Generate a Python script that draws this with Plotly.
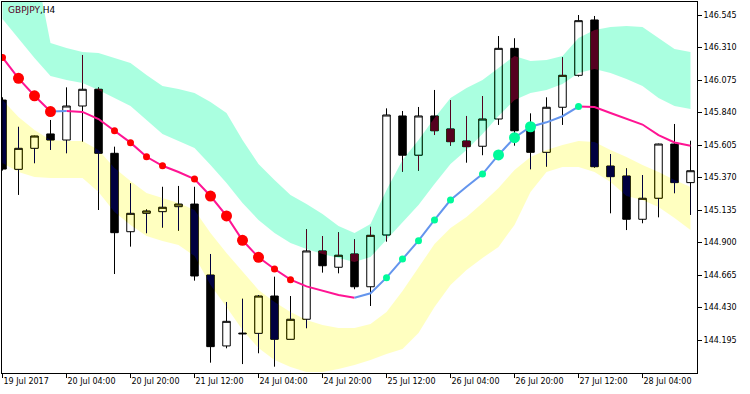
import plotly.graph_objects as go

# ---------------- data ----------------
symbol_label = "GBPJPY,H4"
x_tick_labels = ["19 Jul 2017", "20 Jul 04:00", "20 Jul 20:00", "21 Jul 12:00",
                 "24 Jul 04:00", "24 Jul 20:00", "25 Jul 12:00", "26 Jul 04:00",
                 "26 Jul 20:00", "27 Jul 12:00", "28 Jul 04:00"]
bars_per_label = 4
y_tick_values = [144.195, 144.430, 144.665, 144.900, 145.135, 145.370,
                 145.605, 145.840, 146.075, 146.310, 146.545]

open_ = [145.930, 145.429, 145.581, 145.685, 145.641, 145.887, 146.008, 145.545, 144.978, 145.111,
         145.123, 145.159, 145.178, 144.665, 144.152, 144.245, 144.243, 144.513, 144.200, 144.345,
         144.839, 144.721, 144.817, 144.580, 144.954, 145.815, 145.531, 145.815, 145.721, 145.634,
         145.596, 145.793, 146.304, 145.742, 145.552, 145.878, 146.109, 146.509, 145.453, 145.381,
         145.068, 145.220, 145.612, 145.333]
high_ = [145.950, 145.737, 145.672, 145.786, 146.022, 146.256, 146.022, 145.593, 145.328, 145.140,
         145.303, 145.309, 145.303, 144.817, 144.470, 144.494, 144.520, 144.653, 144.513, 144.996,
         144.947, 144.974, 144.923, 145.014, 145.870, 145.851, 145.880, 146.003, 145.930, 145.815,
         145.959, 146.393, 146.377, 145.834, 145.950, 146.239, 146.545, 146.538, 145.540, 145.437,
         145.388, 145.615, 145.757, 145.636]
low_ = [145.420, 145.244, 145.473, 145.569, 145.545, 145.629, 145.135, 144.672, 144.870, 144.967,
        145.007, 144.985, 144.624, 144.031, 144.135, 144.021, 144.099, 144.002, 144.198, 144.280,
        144.682, 144.677, 144.562, 144.441, 144.906, 145.412, 145.419, 145.677, 145.600, 145.477,
        145.531, 145.750, 145.600, 145.429, 145.448, 145.750, 146.099, 145.441, 145.111, 144.990,
        145.039, 145.082, 145.256, 145.099]
close_ = [145.431, 145.581, 145.670, 145.641, 145.887, 146.008, 145.545, 144.971, 145.111, 145.128,
          145.155, 145.178, 144.658, 144.147, 144.330, 144.240, 144.513, 144.200, 144.345, 144.839,
          144.732, 144.808, 144.580, 144.952, 145.822, 145.531, 145.815, 145.708, 145.629, 145.593,
          145.793, 146.304, 145.708, 145.552, 145.878, 146.109, 146.504, 145.448, 145.376, 145.068,
          145.220, 145.612, 145.333, 145.419]

ma_ = [146.238, 146.087, 145.961, 145.847, 145.851, 145.844, 145.793, 145.708, 145.622, 145.520,
       145.455, 145.410, 145.359, 145.236, 145.092, 144.916, 144.793, 144.708, 144.631, 144.583,
       144.549, 144.520, 144.501, 144.533, 144.646, 144.781, 144.913, 145.063, 145.207, 145.303,
       145.395, 145.533, 145.658, 145.737, 145.769, 145.813, 145.883, 145.880, 145.836, 145.797,
       145.753, 145.677, 145.623, 145.600]
# 0 = no dot, 1 = small dot, 2 = big dot
dot_kind = [1, 2, 2, 2, 0, 0, 0, 1, 1, 1,
            1, 0, 1, 2, 2, 2, 2, 1, 1, 0,
            0, 0, 0, 0, 1, 1, 1, 1, 1, 0,
            1, 2, 2, 2, 0, 0, 1, 0, 0, 0,
            0, 0, 0, 0]

upper_band_top = [146.979, 146.957, 146.928, 146.343, 146.306, 146.277, 146.270, 146.234, 146.198, 146.111,
                  146.032, 146.010, 145.981, 145.916, 145.836, 145.641, 145.468, 145.352, 145.244, 145.178,
                  145.106, 145.019, 144.969, 145.034, 145.280, 145.497, 145.641, 145.800, 145.945, 146.017,
                  146.075, 146.162, 146.249, 146.212, 146.220, 146.249, 146.379, 146.437, 146.458, 146.465,
                  146.458, 146.379, 146.299, 146.277]
upper_band_bottom = [146.516, 146.371, 146.234, 146.104, 146.075, 146.053, 146.003, 145.945, 145.887, 145.786,
                     145.685, 145.634, 145.583, 145.460, 145.330, 145.186, 145.063, 144.969, 144.896, 144.853,
                     144.817, 144.788, 144.759, 144.795, 144.918, 145.048, 145.171, 145.323, 145.468, 145.569,
                     145.685, 145.815, 145.930, 145.981, 146.003, 146.046, 146.126, 146.155, 146.126, 146.082,
                     146.032, 145.945, 145.887, 145.865]
lower_band_top = [145.930, 145.808, 145.714, 145.641, 145.634, 145.634, 145.569, 145.439, 145.345, 145.258,
                  145.222, 145.186, 145.135, 144.969, 144.824, 144.687, 144.557, 144.470, 144.398, 144.340,
                  144.304, 144.282, 144.282, 144.311, 144.398, 144.549, 144.723, 144.889, 145.005, 145.084,
                  145.186, 145.294, 145.424, 145.518, 145.569, 145.605, 145.634, 145.627, 145.569, 145.518,
                  145.460, 145.410, 145.352, 145.301]
lower_band_bottom = [145.475, 145.410, 145.374, 145.366, 145.366, 145.366, 145.265, 145.121, 145.027, 144.947,
                     144.911, 144.882, 144.802, 144.593, 144.434, 144.267, 144.137, 144.050, 144.000, 143.964,
                     143.964, 143.985, 144.014, 144.050, 144.094, 144.130, 144.246, 144.434, 144.593, 144.701,
                     144.788, 144.868, 145.027, 145.265, 145.410, 145.446, 145.446, 145.410, 145.338, 145.236,
                     145.207, 145.157, 145.077, 144.990]

# ---------------- styles ----------------
CYAN = "#AAFFE0"
YELLOW = "#FFFFC0"
PINK = "#FF1493"
BLUE = "#6495ED"
RED = "#FF0000"
GREEN = "#00FA9A"
FONT = "DejaVu Sans"


def inverted(hex_color):
    v = int(hex_color[1:], 16)
    return "#%06X" % (0xFFFFFF - v)


n = len(close_)
idx = list(range(n))

fig = go.Figure()

fig.add_trace(go.Candlestick(
    x=idx, open=open_, high=high_, low=low_, close=close_,
    increasing=dict(line=dict(color="black", width=1), fillcolor="white"),
    decreasing=dict(line=dict(color="black", width=1), fillcolor="black"),
    whiskerwidth=0, hoverinfo="skip", showlegend=False))

# bands (drawn with the inverted colour and a "difference" blend, like MT4's XOR fill)
for lo, hi, col in ((upper_band_bottom, upper_band_top, CYAN),
                    (lower_band_bottom, lower_band_top, YELLOW)):
    fig.add_trace(go.Scatter(x=idx, y=lo, mode="lines", line=dict(width=0),
                             hoverinfo="skip", showlegend=False))
    fig.add_trace(go.Scatter(x=idx, y=hi, mode="lines", line=dict(width=0),
                             fill="tonexty", fillcolor=inverted(col),
                             hoverinfo="skip", showlegend=False))

# moving average coloured by direction
rising = [False] + [ma_[k] > ma_[k - 1] for k in range(1, n)]
for want, col in ((False, PINK), (True, BLUE)):
    xs, ys = [], []
    k = 1
    while k < n:
        if rising[k] == want:
            start = k - 1
            while k < n and rising[k] == want:
                k += 1
            xs += idx[start:k] + [None]
            ys += ma_[start:k] + [None]
        else:
            k += 1
    fig.add_trace(go.Scatter(x=xs, y=ys, mode="lines", line=dict(color=col, width=2),
                             hoverinfo="skip", showlegend=False, connectgaps=False))

dx, dy, dc, ds = [], [], [], []
for k in idx:
    if dot_kind[k]:
        dx.append(k)
        dy.append(ma_[k])
        dc.append(GREEN if rising[k] else RED)
        ds.append(11 if dot_kind[k] == 2 else 7)
fig.add_trace(go.Scatter(x=dx, y=dy, mode="markers",
                         marker=dict(color=dc, size=ds, opacity=1, line=dict(width=0)),
                         hoverinfo="skip", showlegend=False))

fig.add_annotation(xref="paper", yref="paper", x=0, y=1, xanchor="left", yanchor="top",
                   xshift=4, yshift=-1, showarrow=False,
                   text='<span style="color:#55001F">GBPJPY</span>,H4',
                   font=dict(family=FONT, size=9, color="black"))

fig.update_layout(
    width=750, height=394,
    margin=dict(l=2, r=53, t=2, b=21, pad=0),
    paper_bgcolor="white", plot_bgcolor="white",
    showlegend=False, hovermode=False, boxgap=0.33,
    font=dict(family=FONT, size=8, color="black"),
    xaxis=dict(range=[-0.031, 43.406], rangeslider=dict(visible=False),
               tickvals=[i * bars_per_label for i in range(len(x_tick_labels))],
               ticktext=x_tick_labels, ticks="outside", ticklen=4, tickwidth=1,
               tickcolor="black", ticklabelposition="outside right",
               showgrid=False, zeroline=False, showline=True, linecolor="black",
               linewidth=1, mirror=True, automargin=False,
               tickfont=dict(family=FONT, size=8, color="black")),
    yaxis=dict(range=[143.9564, 146.639], side="right",
               tickvals=y_tick_values, ticktext=["%.3f" % v for v in y_tick_values],
               ticks="outside", ticklen=4, tickwidth=1, tickcolor="black",
               showgrid=False, zeroline=False, showline=True, linecolor="black",
               linewidth=1, mirror=True, automargin=False,
               tickfont=dict(family=FONT, size=8, color="black")),
)

post = """
(function(){
  document.documentElement.style.margin = '0';
  document.body.style.margin = '0';
  document.body.style.padding = '0';
  var gd = document.getElementById('{plot_id}');
  function fix(){
    gd.querySelectorAll('g.scatterlayer').forEach(function(sl){
      var g = sl.parentNode;
      if(!g.querySelector(':scope > rect.bgfix')){
        var r = document.createElementNS('http://www.w3.org/2000/svg','rect');
        r.setAttribute('class','bgfix');
        r.setAttribute('x','-3000'); r.setAttribute('y','-3000');
        r.setAttribute('width','6000'); r.setAttribute('height','6000');
        r.setAttribute('fill','#ffffff');
        g.insertBefore(r, g.firstChild);
      }
    });
    gd.querySelectorAll('path.js-fill').forEach(function(p){ p.style.mixBlendMode = 'difference'; });
  }
  fix();
  if (gd.on) { gd.on('plotly_afterplot', fix); }
  setTimeout(fix, 30);
})();
"""

fig.write_html("out.html", config={"displayModeBar": False, "staticPlot": True}, post_script=post)
